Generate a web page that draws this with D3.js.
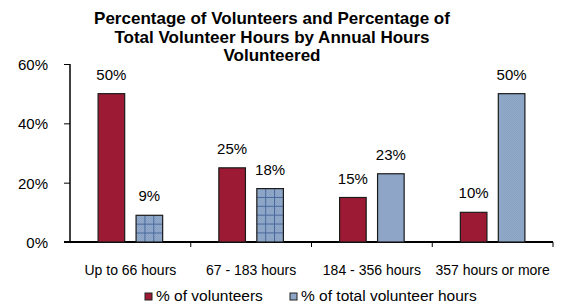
<!DOCTYPE html>
<html>
<head>
<meta charset="utf-8">
<script src="https://cdn.jsdelivr.net/npm/d3@7"></script>
<style>
  body { margin: 0; background: #fff; }
  text { font-family: Arial, "Liberation Sans", sans-serif; fill: #000; }
</style>
</head>
<body>
<script>
const categories = ["Up to 66 hours", "67 - 183 hours", "184 - 356 hours", "357 hours or more"];
const volunteers = [50, 25, 15, 10];
const hours = [9, 18, 23, 50];
const seriesNames = ["% of volunteers", "% of total volunteer hours"];
const yTicks = [0, 20, 40, 60];
const titleLines = ["Percentage of Volunteers and Percentage of", "Total Volunteer Hours by Annual Hours", "Volunteered"];
const gridded = [true, true, false, false];

const width = 563, height = 307;
const margin = { left: 70, right: 10, top: 64, bottom: 65 };

const svg = d3.select("body").append("svg")
  .attr("width", width).attr("height", height);

const defs = svg.append("defs");
// dithered blue fill
const dither = defs.append("pattern").attr("id", "dither")
  .attr("width", 2).attr("height", 2).attr("patternUnits", "userSpaceOnUse");
dither.append("rect").attr("width", 2).attr("height", 2).attr("fill", "#95accc");
dither.append("rect").attr("width", 1).attr("height", 1).attr("fill", "#869ec1");
dither.append("rect").attr("x", 1).attr("y", 1).attr("width", 1).attr("height", 1).attr("fill", "#869ec1");

const data = categories.map((c, i) => ({ cat: c, values: [volunteers[i], hours[i]], grid: gridded[i] }));

const x0 = d3.scaleBand().domain(categories)
  .range([margin.left, width - margin.right]).paddingInner(0).paddingOuter(0);
const x1 = d3.scaleBand().domain([0, 1])
  .range([0, x0.bandwidth()]).paddingInner(0.3).paddingOuter(0.74);
const y = d3.scaleLinear().domain([0, 60]).range([height - margin.bottom, margin.top]);

// title
const titleX = 272;
svg.append("text")
  .attr("x", titleX).attr("y", 24)
  .attr("text-anchor", "middle")
  .style("font-weight", "bold").style("font-size", "17px")
  .selectAll("tspan").data(titleLines).enter().append("tspan")
  .attr("x", titleX).attr("dy", (d, i) => i === 0 ? 0 : 18.5)
  .text(d => d);

// y axis
const yAxis = svg.append("g").attr("transform", "translate(" + margin.left + ",0)")
  .call(d3.axisLeft(y).tickValues(yTicks).tickFormat(d => d + "%").tickSize(6).tickPadding(16));
yAxis.select(".domain").attr("stroke", "#000").attr("stroke-width", 1.5).attr("d", "M0," + y(60) + "V" + y(0));
yAxis.selectAll(".tick line").attr("stroke", "#000");
yAxis.selectAll(".tick text").style("font-size", "15px").attr("dy", "0.36em");

// x axis
const xAxis = svg.append("g").attr("transform", "translate(0," + y(0) + ")");
xAxis.append("line").attr("x1", margin.left - 6).attr("x2", width - margin.right)
  .attr("stroke", "#000").attr("stroke-width", 2);
xAxis.selectAll(".xt").data(categories).enter().append("line")
  .attr("x1", d => x0(d) + x0.bandwidth()).attr("x2", d => x0(d) + x0.bandwidth())
  .attr("y1", 0).attr("y2", 5).attr("stroke", "#000");
xAxis.selectAll(".xl").data(categories).enter().append("text")
  .attr("x", d => x0(d) + x0.bandwidth() / 2).attr("y", 33)
  .attr("text-anchor", "middle").style("font-size", "14px")
  .text(d => d);

// bars
const colors = ["#9c1a33", "url(#dither)"];
const groups = svg.selectAll(".grp").data(data).enter().append("g")
  .attr("transform", d => "translate(" + x0(d.cat) + ",0)");

groups.each(function (d) {
  const g = d3.select(this);
  d.values.forEach((v, k) => {
    const bx = x1(k), bw = x1.bandwidth(), by = y(v), bh = y(0) - y(v);
    g.append("rect").attr("x", bx).attr("y", by).attr("width", bw).attr("height", bh)
      .attr("fill", colors[k]);
    if (k === 1 && d.grid) {
      const cols = 3, step = bw / cols;
      for (let c = 1; c < cols; c++) {
        g.append("line").attr("x1", bx + c * step).attr("x2", bx + c * step)
          .attr("y1", by).attr("y2", by + bh).attr("stroke", "#4a6a9e").attr("stroke-width", 1);
      }
      for (let r = by + step; r < by + bh - 1; r += step) {
        g.append("line").attr("x1", bx).attr("x2", bx + bw)
          .attr("y1", r).attr("y2", r).attr("stroke", "#4a6a9e").attr("stroke-width", 1);
      }
    }
    g.append("rect").attr("x", bx).attr("y", by).attr("width", bw).attr("height", bh)
      .attr("fill", "none").attr("stroke", "#1a1a1a").attr("stroke-width", 1.2);
    g.append("text").attr("x", bx + bw / 2).attr("y", by - 14)
      .attr("text-anchor", "middle").style("font-size", "15px")
      .text(v + "%");
  });
});

// legend
const legendItems = [{ name: seriesNames[0], fill: colors[0], x: 145 }, { name: seriesNames[1], fill: colors[1], x: 290 }];
const legend = svg.selectAll(".leg").data(legendItems).enter().append("g")
  .attr("transform", d => "translate(" + d.x + ",293)");
legend.append("rect").attr("width", 7).attr("height", 7)
  .attr("fill", d => d.fill).attr("stroke", "#222").attr("stroke-width", 1);
legend.append("text").attr("x", 11).attr("y", 8).style("font-size", "15.5px").text(d => d.name);
</script>
</body>
</html>
